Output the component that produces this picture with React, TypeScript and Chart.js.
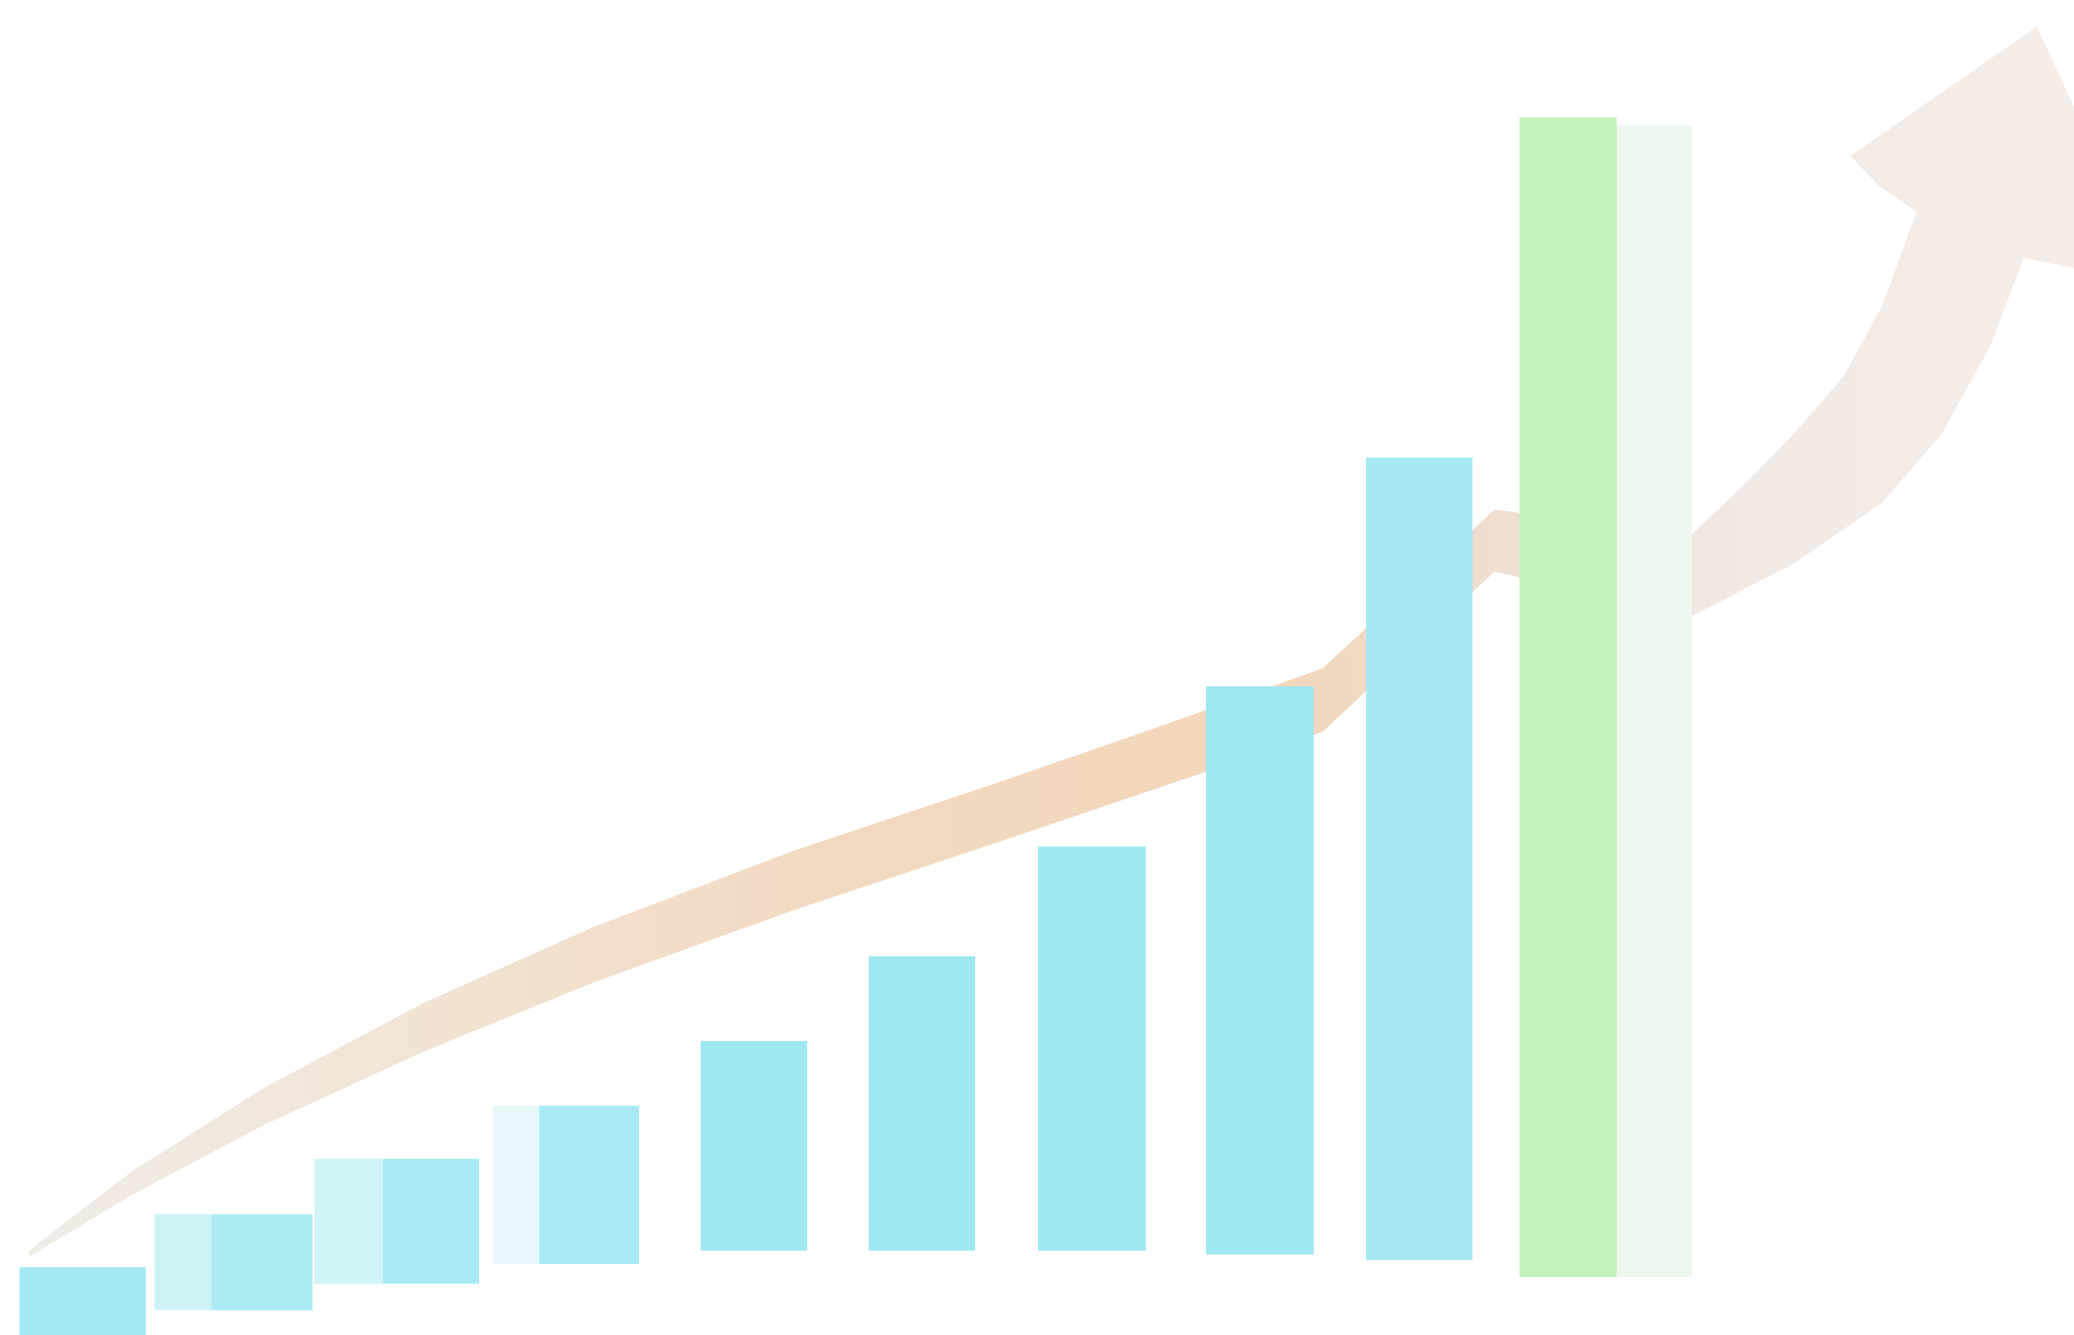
import React, { useEffect, useRef } from "react";
import { Chart, registerables } from "chart.js";

Chart.register(...registerables);

// Units: reference picture coordinates (x from the left, y upward from the bottom)
const X_MAX = 1568;
const Y_MAX = 1009;

// Front faces of the bars
const BAR_LEFT = [15, 160, 290, 408, 530, 657, 785, 912, 1033, 1149];
const BAR_RIGHT = [110, 236, 362, 483, 610, 737, 866, 993, 1113, 1222];
const BAR_LOW = [-5, 19, 39, 54, 64, 64, 64, 61, 57, 44];
const BAR_HIGH = [51, 91, 133, 173, 222, 286, 369, 490, 663, 920];

// Lighter side faces
const SIDE_LEFT = [117, 238, 373, 1222];
const SIDE_RIGHT = [160, 290, 408, 1279];
const SIDE_LOW = [19, 39, 54, 44];
const SIDE_HIGH = [91, 133, 173, 914];

// Arrow outline (tail -> lower edge -> head -> upper edge -> tail)
const ARROW_X = [22, 100, 200, 320, 450, 600, 750, 880, 1000, 1130, 1278, 1300, 1356, 1423, 1468, 1505, 1530, 1630, 1540, 1399, 1420, 1449, 1423, 1394, 1356, 1319, 1278, 1130, 1000, 880, 750, 600, 450, 320, 200, 100, 22];
const ARROW_Y = [59, 106, 159, 214, 267, 321, 371, 415, 456, 577, 543, 554, 583, 629, 681, 748, 814, 794, 989, 891, 869, 849, 778, 725, 681, 643, 604, 624, 504, 461, 416, 366, 309, 251, 187, 124, 64];

const BAR_COLORS = ["#A2E9F2", "#ABEBF3", "#A8EAF3", "#A8EAF3", "#A0E8F1", "#A0E8F1", "#A0E8F1", "#A0E8F1", "#A6E9F2", "#C4F2BC"];
const SIDE_COLORS = ["#CDF3F7", "#D0F4F8", "#E8F8FA", "#EDF7EE"];

export default function App() {
  const ref = useRef<HTMLCanvasElement>(null);

  useEffect(() => {
    const canvas = ref.current;
    if (!canvas) return;
    const W = 2074;
    const pxPerX = W / X_MAX;

    const barSets = BAR_LEFT.map((l, i) => ({
      type: "bar" as const,
      data: [{ x: (l + BAR_RIGHT[i]) / 2, y: [BAR_LOW[i], BAR_HIGH[i]] }],
      backgroundColor: BAR_COLORS[i],
      borderWidth: 0,
      barThickness: (BAR_RIGHT[i] - l) * pxPerX,
      grouped: false,
      order: 0,
    }));
    const sideSets = SIDE_LEFT.map((l, i) => ({
      type: "bar" as const,
      data: [{ x: (l + SIDE_RIGHT[i]) / 2, y: [SIDE_LOW[i], SIDE_HIGH[i]] }],
      backgroundColor: SIDE_COLORS[i],
      borderWidth: 0,
      barThickness: (SIDE_RIGHT[i] - l) * pxPerX,
      grouped: false,
      order: 1,
    }));

    const arrowSet = {
      type: "line" as const,
      data: ARROW_X.map((x, i) => ({ x, y: ARROW_Y[i] })),
      borderWidth: 0,
      borderColor: "rgba(0,0,0,0)",
      pointRadius: 0,
      tension: 0,
      fill: "shape",
      order: 5,
      backgroundColor: (ctx: any) => {
        const chart = ctx.chart;
        const area = chart.chartArea;
        if (!area) return "#F0DCC8";
        const g = chart.ctx.createLinearGradient(area.left, 0, area.right, 0);
        g.addColorStop(0, "#F0EDE8");
        g.addColorStop(0.2, "#F2E4D5");
        g.addColorStop(0.4, "#F2D9C1");
        g.addColorStop(0.62, "#F2D6BA");
        g.addColorStop(0.75, "#EEE1D8");
        g.addColorStop(0.85, "#F2EAE5");
        g.addColorStop(1, "#F4EDE8");
        return g;
      },
    };

    const chart = new Chart(canvas, {
      type: "bar",
      data: { datasets: [...barSets, ...sideSets, arrowSet] as any },
      options: {
        animation: false,
        responsive: false,
        layout: { padding: 0 },
        plugins: { legend: { display: false }, tooltip: { enabled: false } },
        scales: {
          x: { type: "linear", min: 0, max: X_MAX, offset: false, display: false },
          y: { type: "linear", min: 0, max: Y_MAX, display: false },
        },
      },
    });
    return () => chart.destroy();
  }, []);

  return (
    <div style={{ position: "fixed", left: 0, top: 0, width: 2074, height: 1335, background: "#ffffff" }}>
      <canvas ref={ref} width={2074} height={1335} style={{ display: "block" }} />
    </div>
  );
}
